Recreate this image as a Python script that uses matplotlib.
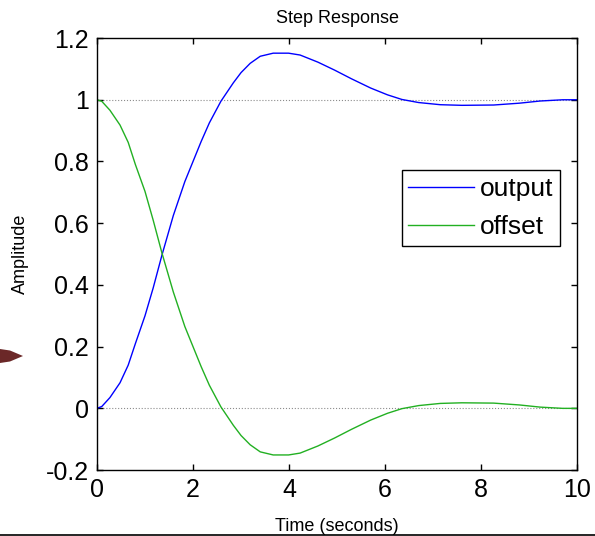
import matplotlib
matplotlib.use("Agg")
import matplotlib.pyplot as plt
from matplotlib.lines import Line2D
from matplotlib.patches import Polygon

plt.rcParams["font.family"] = ["Liberation Sans", "DejaVu Sans"]

# values
time_s = [0, 0.1, 0.27, 0.48, 0.65, 0.8, 1.0, 1.17, 1.35, 1.59, 1.83, 2.0,
          2.17, 2.34, 2.58, 2.84, 3.0, 3.19, 3.4, 3.67, 3.99, 4.23, 4.6, 4.95,
          5.3, 5.7, 6.05, 6.35, 6.7, 7.15, 7.6, 8.26, 8.8, 9.23, 9.7, 10]
output = [0, 0.006, 0.035, 0.083, 0.14, 0.21, 0.30, 0.39, 0.495, 0.625, 0.735, 0.80,
          0.865, 0.925, 0.995, 1.055, 1.088, 1.118, 1.141, 1.151, 1.151, 1.145, 1.122, 1.096,
          1.068, 1.038, 1.016, 1.001, 0.991, 0.984, 0.982, 0.983, 0.989, 0.996, 1.0, 1.0]
offset = [1.0, 0.995, 0.966, 0.918, 0.862, 0.79, 0.703, 0.61, 0.505, 0.377, 0.265, 0.20,
          0.135, 0.075, 0.005, -0.055, -0.088, -0.118, -0.141, -0.151, -0.151, -0.145, -0.122, -0.096,
          -0.068, -0.038, -0.016, -0.001, 0.009, 0.016, 0.018, 0.017, 0.011, 0.004, 0.0, 0.0]
x_ticks = [0, 2, 4, 6, 8, 10]
y_ticks = [-0.2, 0, 0.2, 0.4, 0.6, 0.8, 1.0, 1.2]
y_labels = ["-0.2", "0", "0.2", "0.4", "0.6", "0.8", "1", "1.2"]
ref_levels = [0, 1]

fig = plt.figure(figsize=(5.95, 5.36), dpi=100)
ax = fig.add_axes([0.163, 0.123, 0.807, 0.806])

for lvl in ref_levels:
    ax.axhline(lvl, color="0.55", linestyle=":", linewidth=0.8, zorder=1)

ax.plot(time_s, output, color="#0000ff", linewidth=1.0, label="output")
ax.plot(time_s, offset, color="#22b022", linewidth=1.0, label="offset")

ax.set_xlim(0, 10)
ax.set_ylim(-0.2, 1.2)
ax.set_xticks(x_ticks)
ax.set_yticks(y_ticks)
ax.set_yticklabels(y_labels)
ax.tick_params(direction="in", length=4.5, width=1.0, labelsize=18,
               top=True, right=True, pad=6)
for sp in ax.spines.values():
    sp.set_linewidth(1.0)

ax.set_title("Step Response", fontsize=13, pad=11)
ax.set_xlabel("Time (seconds)", fontsize=13, labelpad=11)
ax.set_ylabel("Amplitude", fontsize=13)
ax.yaxis.set_label_coords(-0.142, 0.5)

leg = ax.legend(loc="upper left", bbox_to_anchor=(0.635, 0.694), borderaxespad=0,
                fontsize=19, handlelength=2.5, handletextpad=0.2, fancybox=False,
                framealpha=1, edgecolor="black", borderpad=0.25, labelspacing=0.55)
leg.get_frame().set_linewidth(1.0)

# stray arrow shape at the left edge and the rule at the bottom
W, H = 595.0, 536.0
pts = [(0, 349), (10, 350.5), (23, 356), (10, 361.5), (0, 363)]
fig.patches.append(Polygon([(x / W, 1 - y / H) for x, y in pts], closed=True,
                           transform=fig.transFigure, facecolor="#6b2828",
                           edgecolor="none"))
fig.lines.append(Line2D([0, 1], [1 - 534.5 / H] * 2, transform=fig.transFigure,
                        color="black", linewidth=1.2))

fig.savefig("out.png", dpi=100)
